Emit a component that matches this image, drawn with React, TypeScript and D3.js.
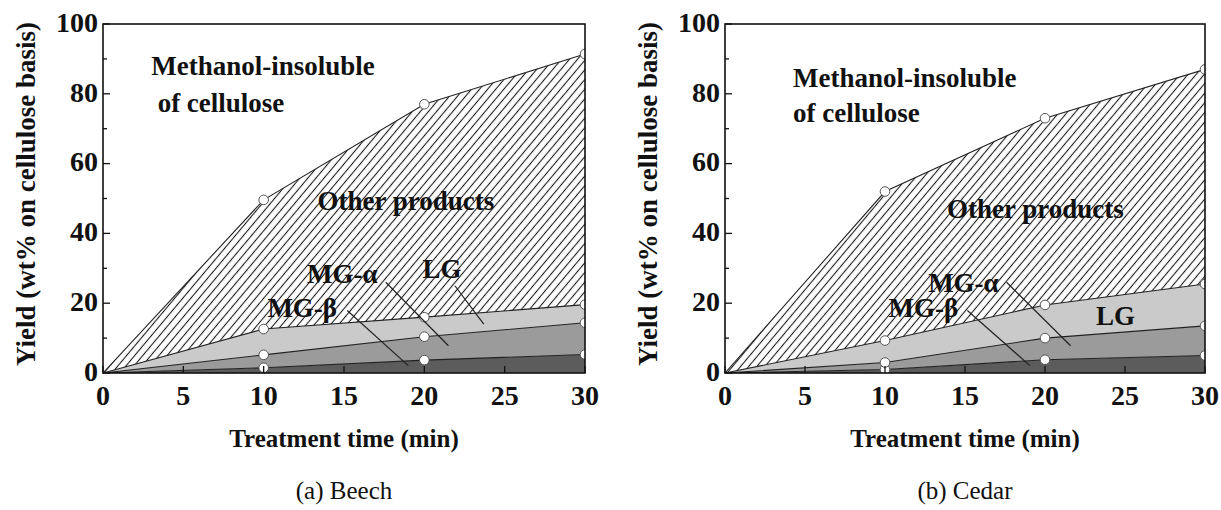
import React from "react";
import * as d3 from "d3";

// treatment time (min)
const times = [0, 10, 20, 30];

// Beech, yields (wt% on cellulose basis), each layer on its own
const beechMGb = [0, 1.5, 3.7, 5.3];
const beechMGa = [0, 3.7, 6.7, 9.1];
const beechLG = [0, 7.4, 5.6, 5.2];
const beechOther = [0, 37, 61, 71.8];

// Cedar
const cedarMGb = [0, 1, 3.8, 5];
const cedarMGa = [0, 2, 6.2, 8.5];
const cedarLG = [0, 6.3, 9.5, 12];
const cedarOther = [0, 42.7, 53.5, 61.5];

const xTicks = [0, 5, 10, 15, 20, 25, 30];
const yTicks = [0, 10, 20, 30, 40, 50, 60, 70, 80, 90, 100];
const yLabels = [0, 20, 40, 60, 80, 100];

const keys = ["mgb", "mga", "lg", "other"];
const fills: Record<string, string> = {
  mgb: "#5c5c5c",
  mga: "#9b9b9b",
  lg: "#cacaca",
  other: "url(#hatch)",
};

// annotation positions in data units (t, yield)
type Note = { text: string; t: number; v: number; anchor: "start" | "middle" };
type Leader = [number, number, number, number];

const beechNotes: Note[] = [
  { text: "Methanol-insoluble", t: 3.0, v: 88, anchor: "start" },
  { text: "of cellulose", t: 3.4, v: 77.6, anchor: "start" },
  { text: "Other products", t: 18.85, v: 49.4, anchor: "middle" },
  { text: "MG-α", t: 14.9, v: 28.4, anchor: "middle" },
  { text: "LG", t: 21.1, v: 29.8, anchor: "middle" },
  { text: "MG-β", t: 12.4, v: 18.8, anchor: "middle" },
];
const beechLeaders: Leader[] = [
  [15.2, 17.9, 19, 2.1],
  [17.6, 26, 21.5, 7.8],
  [21.9, 25, 23.7, 14],
];

const cedarNotes: Note[] = [
  { text: "Methanol-insoluble", t: 4.25, v: 84.7, anchor: "start" },
  { text: "of cellulose", t: 4.25, v: 74.6, anchor: "start" },
  { text: "Other products", t: 19.4, v: 47, anchor: "middle" },
  { text: "MG-α", t: 14.9, v: 26, anchor: "middle" },
  { text: "MG-β", t: 12.4, v: 18.8, anchor: "middle" },
  { text: "LG", t: 24.4, v: 16.4, anchor: "middle" },
];
const cedarLeaders: Leader[] = [
  [15.15, 17.9, 19.06, 2.1],
  [17.6, 26, 21.6, 7.8],
];

const serif = '"Liberation Serif", Tinos, "Times New Roman", "DejaVu Serif", serif';
const top = 24;
const bottom = 373;

function Panel({
  id,
  left,
  right,
  series,
  notes,
  leaders,
  caption,
}: {
  id: string;
  left: number;
  right: number;
  series: number[][];
  notes: Note[];
  leaders: Leader[];
  caption: string;
}) {
  const x = d3.scaleLinear().domain([0, 30]).range([left, right]);
  const y = d3.scaleLinear().domain([0, 100]).range([bottom, top]);

  const rows = times.map((t, i) => {
    const r: any = { t };
    keys.forEach((k, j) => (r[k] = series[j][i]));
    return r;
  });
  const stacked = d3.stack<any>().keys(keys)(rows);

  const area = d3
    .area<any>()
    .x((d) => x(d.data.t))
    .y0((d) => y(d[0]))
    .y1((d) => y(d[1]));
  const line = d3
    .line<any>()
    .x((d) => x(d.data.t))
    .y((d) => y(d[1]));

  const cx = (left + right) / 2;
  const bold = { fontFamily: serif, fontWeight: "bold" as const };

  return (
    <g>
      <defs>
        <clipPath id={`clip-${id}`}>
          <rect x={left} y={top} width={right - left} height={bottom - top} />
        </clipPath>
      </defs>
      <g clipPath={`url(#clip-${id})`}>
        {stacked.map((layer) => (
          <path key={layer.key} d={area(layer) || ""} fill={fills[layer.key]} />
        ))}
        {stacked.map((layer) => (
          <path
            key={"l" + layer.key}
            d={line(layer) || ""}
            fill="none"
            stroke="#222"
            strokeWidth={1.1}
          />
        ))}
        {stacked.map((layer) =>
          layer
            .filter((d) => d.data.t > 0)
            .map((d, i) => (
              <circle
                key={layer.key + i}
                cx={x(d.data.t)}
                cy={y(d[1])}
                r={4.8}
                fill="white"
                stroke="#555"
                strokeWidth={1}
              />
            ))
        )}
      </g>

      {leaders.map((l, i) => (
        <line
          key={"ld" + i}
          x1={x(l[0])}
          y1={y(l[1])}
          x2={x(l[2])}
          y2={y(l[3])}
          stroke="#222"
          strokeWidth={1.2}
        />
      ))}
      {notes.map((n, i) => (
        <text
          key={"n" + i}
          x={x(n.t)}
          y={y(n.v)}
          dy="0.35em"
          textAnchor={n.anchor}
          style={{ ...bold, fontSize: 27 }}
          fill="#111"
        >
          {n.text}
        </text>
      ))}

      {/* ticks */}
      {xTicks.map((t) => (
        <line key={"xt" + t} x1={x(t)} x2={x(t)} y1={bottom} y2={bottom - 7} stroke="#111" strokeWidth={1.3} />
      ))}
      {yTicks.map((v) => (
        <line
          key={"yt" + v}
          x1={left}
          x2={left + (v % 20 === 0 ? 7 : 4)}
          y1={y(v)}
          y2={y(v)}
          stroke="#111"
          strokeWidth={1.3}
        />
      ))}
      <rect
        x={left}
        y={top}
        width={right - left}
        height={bottom - top}
        fill="none"
        stroke="#111"
        strokeWidth={1.6}
      />

      {xTicks.map((t) => (
        <text
          key={"xl" + t}
          x={x(t)}
          y={395}
          dy="0.35em"
          textAnchor="middle"
          style={{ ...bold, fontSize: 28 }}
          fill="#111"
        >
          {t}
        </text>
      ))}
      {yLabels.map((v) => (
        <text
          key={"yl" + v}
          x={left - 5}
          y={y(v) - 2}
          dy="0.35em"
          textAnchor="end"
          style={{ ...bold, fontSize: 28 }}
          fill="#111"
        >
          {v}
        </text>
      ))}

      <text
        x={cx}
        y={438}
        dy="0.35em"
        textAnchor="middle"
        style={{ ...bold, fontSize: 25 }}
        fill="#111"
      >
        Treatment time (min)
      </text>
      <text
        transform={`translate(${left - 77},194) rotate(-90)`}
        dy="0.35em"
        textAnchor="middle"
        style={{ ...bold, fontSize: 27 }}
        fill="#111"
      >
        Yield (wt% on cellulose basis)
      </text>
      <text
        x={cx}
        y={490}
        dy="0.35em"
        textAnchor="middle"
        style={{ fontFamily: serif, fontSize: 25 }}
        fill="#111"
      >
        {caption}
      </text>
    </g>
  );
}

export default function App() {
  return (
    <svg
      width={1221}
      height={510}
      style={{ position: "absolute", left: 0, top: 0, background: "white" }}
    >
      <defs>
        <pattern
          id="hatch"
          patternUnits="userSpaceOnUse"
          width={6.2}
          height={6.2}
          patternTransform="rotate(40)"
        >
          <rect width={6.2} height={6.2} fill="white" />
          <line x1={3.1} y1={0} x2={3.1} y2={6.2} stroke="#1a1a1a" strokeWidth={1.1} />
        </pattern>
      </defs>
      <rect width={1221} height={510} fill="white" />
      <Panel
        id="beech"
        left={103}
        right={585}
        series={[beechMGb, beechMGa, beechLG, beechOther]}
        notes={beechNotes}
        leaders={beechLeaders}
        caption="(a) Beech"
      />
      <Panel
        id="cedar"
        left={725}
        right={1205}
        series={[cedarMGb, cedarMGa, cedarLG, cedarOther]}
        notes={cedarNotes}
        leaders={cedarLeaders}
        caption="(b) Cedar"
      />
    </svg>
  );
}
